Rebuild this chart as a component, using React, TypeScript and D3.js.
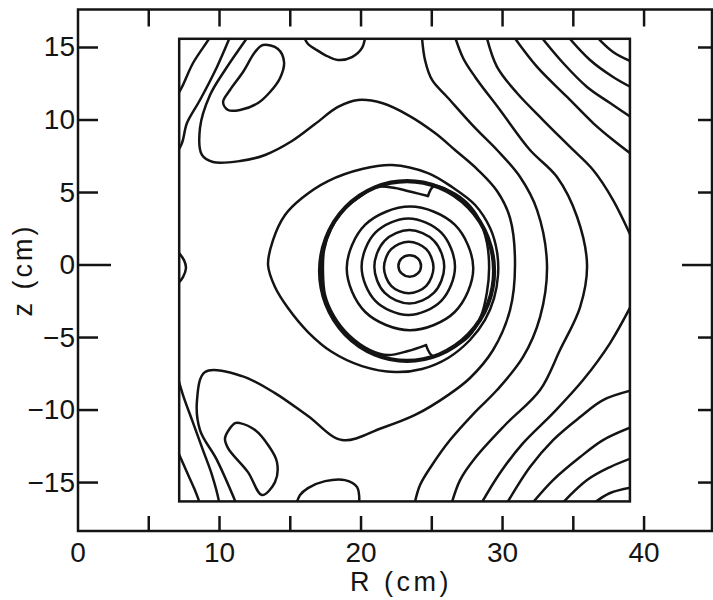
import React, { useEffect } from "react";
import * as d3 from "d3";

type Pt = [number, number];

// ---- axis / tick data ----
const xTickLabels = [0, 10, 20, 30, 40];
const xTickMarks = [5, 10, 15, 20, 25, 30, 35, 40];
const zTickLabels = [15, 10, 5, 0, -5, -10, -15];
const xDomain: Pt = [0, 44.8];
const zDomain: Pt = [-18.34, 17.62];
const gridR: Pt = [7.15, 39.0]; // computational box R range (cm)
const gridZ: Pt = [-16.3, 15.6]; // computational box z range (cm)

// ---- limiter (thick circle): centre R, centre z, radius R, radius z ----
const limiter = [23.25, -0.41, 6.15, 6.2];

// ---- flux contours (R cm, z cm) ----
const ring1: Pt[] = [[24.24, -0.06], [24.01, 0.46], [23.44, 0.68], [22.87, 0.46], [22.64, -0.06], [22.87, -0.58], [23.44, -0.8], [24.01, -0.58]];
const ring2: Pt[] = [[25.12, -0.17], [24.61, 1.09], [23.37, 1.61], [22.13, 1.09], [21.62, -0.17], [22.13, -1.43], [23.37, -1.95], [24.61, -1.43]];
const ring3: Pt[] = [[25.88, -0.12], [25.16, 1.67], [23.41, 2.41], [21.66, 1.67], [20.94, -0.12], [21.66, -1.91], [23.41, -2.65], [25.16, -1.91]];
const ring4: Pt[] = [[26.64, -0.12], [25.67, 2.23], [23.34, 3.21], [21.01, 2.23], [20.04, -0.12], [21.01, -2.47], [23.34, -3.45], [25.67, -2.47]];
const ring5: Pt[] = [[27.93, -0.23], [26.62, 2.78], [23.46, 4.03], [20.3, 2.78], [18.99, -0.23], [20.3, -3.24], [23.46, -4.49], [26.62, -3.24]];

// notched surface touching the limiter: left arc (top tip -> bottom tip) and right arc (bottom tip -> top tip)
const notchedLeft: Pt[] = [
  [24.73, 4.76], [23.6, 5.03], [22.4, 5.31], [21.13, 5.38], [19.79, 4.62], [18.66, 3.66], [17.88, 2.48],
  [17.39, 1.03], [17.31, -0.41], [17.46, -2.07], [18.09, -3.52], [19.15, -4.83], [20.64, -5.86],
  [21.91, -6.21], [23.32, -5.93], [24.59, -5.52],
];
const notchedRight: Pt[] = [
  [24.59, -5.52], [25.09, -6.28], [26.43, -5.72], [27.63, -4.9], [28.48, -3.52], [28.9, -1.86], [29.05, -0.21],
  [28.9, 1.52], [28.41, 3.03], [27.49, 4.28], [26.29, 5.1], [25.16, 5.45], [24.73, 4.76],
];

const outerC: Pt[] = [
  [13.43, 0], [13.78, 1.72], [14.63, 3.45], [15.83, 4.62], [17.67, 5.79], [20.07, 6.62], [22.19, 6.9],
  [24.73, 6.34], [26.43, 5.38], [28.06, 4.14], [29.12, 2.55], [29.61, 0.9], [29.68, -0.69], [29.4, -2.28],
  [28.76, -3.79], [27.7, -5.17], [26.15, -6.41], [24.31, -7.17], [22.4, -7.38], [20.07, -6.97],
  [17.95, -6.0], [16.25, -4.62], [14.84, -2.97], [13.92, -1.52],
];

const hatD: Pt[] = [
  [12.2, 16.0], [11.45, 14.97], [10.39, 13.45], [9.33, 11.72], [8.62, 9.45], [8.76, 7.59], [9.54, 7.1],
  [11.45, 7.17], [13.22, 7.59], [15.12, 8.55], [16.75, 9.72], [18.37, 10.9], [19.79, 11.38], [21.48, 11.17],
  [23.32, 10.34], [25.23, 9.1], [26.64, 7.93], [28.27, 6.55], [29.61, 5.1], [30.53, 3.24], [30.88, 0],
  [30.53, -3.1], [29.33, -5.86], [27.7, -7.79], [26.15, -8.97], [23.82, -10.34], [21.48, -11.24],
  [18.66, -12.07], [16.25, -10.41], [13.92, -8.83], [11.59, -7.66], [8.98, -7.38], [8.41, -9.31],
  [8.62, -11.38], [9.82, -13.45], [11.25, -16.6],
];

const contE: Pt[] = [
  [24.28, 16.0], [24.52, 14.14], [25.02, 12.76], [26.15, 11.52], [28.06, 9.45], [29.61, 7.93], [31.24, 6.07],
  [32.44, 3.79], [33.14, 0], [32.65, -3.59], [31.45, -6.34], [29.61, -8.62], [28.06, -10.14], [26.29, -12.07],
  [25.02, -13.79], [24.17, -15.17], [23.75, -16.6],
];

const contG: Pt[] = [
  [26.55, 16.0], [27.21, 14.28], [28.06, 12.97], [29.82, 10.69], [31.94, 7.93], [33.85, 6.07], [35.27, 3.31],
  [35.97, 0], [35.48, -2.9], [34.06, -5.86], [32.65, -8.62], [30.18, -11.03], [28.06, -13.31], [27.0, -14.83],
  [26.35, -16.6],
];

const contH: Pt[] = [[28.8, 16.0], [29.61, 13.66], [31.02, 11.86], [32.86, 10.0], [34.77, 8.14], [36.4, 6.55], [37.81, 4.48], [39.3, 1.5]];
const contH2: Pt[] = [[39.3, -2.4], [37.6, -5.38], [35.69, -7.93], [33.57, -10.21], [31.45, -12.28], [29.82, -14.34], [28.4, -16.6]];

const cornerI1: Pt[] = [[30.6, 16.0], [32.44, 13.66], [34.56, 11.59], [36.4, 9.79], [37.81, 8.62], [39.3, 7.5]];
const cornerI2: Pt[] = [[32.5, 16.0], [34.28, 13.93], [35.97, 12.28], [37.6, 11.17], [39.3, 10.05]];
const cornerI3: Pt[] = [[34.4, 16.0], [36.18, 14.14], [37.81, 12.97], [39.3, 12.15]];
const cornerI4: Pt[] = [[36.4, 16.0], [37.81, 14.69], [39.3, 13.95]];

const cornerJ1: Pt[] = [[39.3, -8.6], [37.1, -9.31], [35.48, -10.48], [33.57, -12.07], [31.94, -13.93], [30.2, -16.6]];
const cornerJ2: Pt[] = [[39.3, -11.1], [37.1, -12.07], [35.48, -13.24], [33.57, -14.83], [31.95, -16.6]];
const cornerJ3: Pt[] = [[39.3, -13.25], [37.6, -13.93], [35.97, -14.83], [34.05, -16.6]];
const cornerJ4: Pt[] = [[39.3, -15.3], [37.6, -15.72], [36.2, -16.6]];

const leftL1: Pt[] = [[6.9, 11.5], [7.35, 12.28], [8.13, 13.93], [9.33, 15.72], [9.5, 16.1]];
const leftL2: Pt[] = [[6.9, 7.6], [7.35, 8.41], [7.7, 9.79], [8.62, 11.38], [9.82, 13.66], [10.74, 15.72], [10.9, 16.1]];
const leftL2b: Pt[] = [[6.9, -7.2], [7.42, -8.97], [8.06, -10.69], [8.83, -12.76], [9.47, -14.48], [9.96, -16.28], [10.0, -16.6]];
const leftL1b: Pt[] = [[6.9, -12.5], [7.63, -14.14], [8.2, -15.38], [8.55, -16.28], [8.6, -16.6]];

const bumpLeft: Pt[] = [[6.9, 1.1], [7.49, 0.34], [7.63, -0.21], [7.42, -0.83], [6.9, -1.45]];
const bumpTop: Pt[] = [[15.8, 16.1], [16.25, 15.24], [16.75, 14.9], [17.46, 14.48], [18.37, 14.14], [19.36, 14.34], [20.07, 14.97], [20.35, 16.1]];
const bumpBottom: Pt[] = [[15.35, -16.7], [15.69, -15.86], [16.25, -15.38], [17.46, -14.9], [18.87, -14.83], [19.72, -15.31], [19.86, -16.7]];

const islandTop: Pt[] = [[13.07, 15.17], [14.13, 14.9], [14.56, 14.0], [14.28, 12.9], [13.57, 11.93], [12.72, 11.17], [11.45, 10.69], [10.6, 10.69], [10.25, 11.24], [10.74, 12.07], [11.66, 13.31], [12.51, 14.69]];
const islandBottom: Pt[] = [[11.1, -10.9], [10.39, -11.93], [10.6, -12.62], [12.01, -14.28], [13.0, -15.86], [13.92, -14.97], [14.06, -13.59], [13.43, -12.41], [12.51, -11.38], [11.45, -10.9]];

const closedContours = [ring1, ring2, ring3, ring4, ring5, outerC, islandTop, islandBottom];
const openContours = [notchedLeft, notchedRight, hatD, contE, contG, contH, contH2, cornerI1, cornerI2, cornerI3, cornerI4, cornerJ1, cornerJ2, cornerJ3, cornerJ4, leftL1, leftL2, leftL1b, leftL2b, bumpLeft, bumpTop, bumpBottom];

const INK = "#141414";
const FONT = "'Liberation Sans', Arial, sans-serif";
const LW = 2.5;

export default function App() {
  useEffect(() => {
    document.body.style.margin = "0";
  }, []);

  const x = d3.scaleLinear().domain(xDomain).range([78, 712]);
  const y = d3.scaleLinear().domain(zDomain).range([531, 9.5]);

  const lineOpen = d3.line<Pt>().x((d) => x(d[0])).y((d) => y(d[1])).curve(d3.curveCatmullRom.alpha(0.5));
  const lineClosed = d3.line<Pt>().x((d) => x(d[0])).y((d) => y(d[1])).curve(d3.curveCatmullRomClosed.alpha(0.5));

  const fx0 = x(xDomain[0]), fx1 = x(xDomain[1]);
  const fy0 = y(zDomain[1]), fy1 = y(zDomain[0]);
  const bx0 = x(gridR[0]), bx1 = x(gridR[1]);
  const by0 = y(gridZ[1]), by1 = y(gridZ[0]);

  return (
    <div style={{ position: "absolute", left: 0, top: 0 }}>
      <svg width={713} height={600} style={{ display: "block", background: "#fff" }}>
        <defs>
          <clipPath id="boxclip">
            <rect x={bx0} y={by0} width={bx1 - bx0} height={by1 - by0} />
          </clipPath>
        </defs>
        {/* outer frame */}
        <rect x={fx0} y={fy0} width={fx1 - fx0} height={fy1 - fy0} fill="none" stroke={INK} strokeWidth={LW} />
        {/* top & bottom ticks */}
        {xTickMarks.map((v) => (
          <g key={"xt" + v}>
            <line x1={x(v)} x2={x(v)} y1={fy0} y2={fy0 + 17} stroke={INK} strokeWidth={LW} />
            <line x1={x(v)} x2={x(v)} y1={fy1} y2={fy1 - 15} stroke={INK} strokeWidth={LW} />
          </g>
        ))}
        {/* left & right ticks */}
        {zTickLabels.map((v) => (
          <g key={"zt" + v}>
            <line x1={fx0} x2={fx0 + (v === 0 ? 33 : 20)} y1={y(v)} y2={y(v)} stroke={INK} strokeWidth={LW} />
            <line x1={fx1} x2={fx1 - (v === 0 ? 30 : 14)} y1={y(v)} y2={y(v)} stroke={INK} strokeWidth={LW} />
          </g>
        ))}
        {/* tick labels */}
        {zTickLabels.map((v) => (
          <text key={"zl" + v} x={75} y={y(v) + 9} textAnchor="end" fontFamily={FONT} fontSize={28} fill={INK}>
            {v < 0 ? "\u2212" + Math.abs(v) : String(v)}
          </text>
        ))}
        {xTickLabels.map((v) => (
          <text key={"xl" + v} x={x(v)} y={562} textAnchor="middle" fontFamily={FONT} fontSize={28} fill={INK}>
            {String(v)}
          </text>
        ))}
        <text x={350} y={591} textAnchor="start" fontFamily={FONT} fontSize={27} letterSpacing={3.5} fill={INK}>R (cm)</text>
        <text transform="translate(32,270) rotate(-90)" textAnchor="middle" fontFamily={FONT} fontSize={27} letterSpacing={3} fill={INK}>z (cm)</text>

        {/* computational box */}
        <rect x={bx0} y={by0} width={bx1 - bx0} height={by1 - by0} fill="none" stroke={INK} strokeWidth={LW} />

        <g clipPath="url(#boxclip)" fill="none" stroke={INK} strokeWidth={LW} strokeLinejoin="round" strokeLinecap="round">
          {openContours.map((c, i) => (
            <path key={"o" + i} d={lineOpen(c) || ""} />
          ))}
          {closedContours.map((c, i) => (
            <path key={"c" + i} d={lineClosed(c) || ""} />
          ))}
          <ellipse
            cx={x(limiter[0])}
            cy={y(limiter[1])}
            rx={x(limiter[2]) - x(0)}
            ry={y(0) - y(limiter[3])}
            strokeWidth={4.2}
          />
        </g>
      </svg>
    </div>
  );
}
